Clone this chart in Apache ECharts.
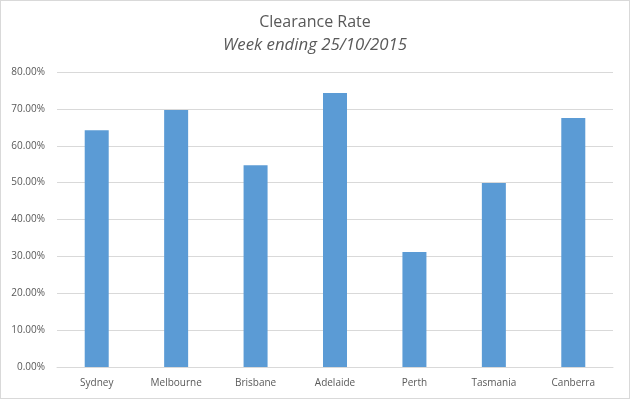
<!DOCTYPE html>
<html><head><meta charset="utf-8">
<script src="https://cdn.jsdelivr.net/npm/echarts@6/dist/echarts.min.js"></script>
<style>html,body{margin:0;padding:0;background:#fff}#c{width:630px;height:399px;box-sizing:border-box;border:1px solid #D9D9D9}</style>
</head><body><div id="c"></div>
<script>
var categories = ['Sydney','Melbourne','Brisbane','Adelaide','Perth','Tasmania','Canberra'];
var clearanceRate = [0.642, 0.697, 0.547, 0.743, 0.312, 0.499, 0.675];
var titleText = 'Clearance Rate';
var subtitleText = 'Week ending 25/10/2015';

var chart = echarts.init(document.getElementById('c'), null, {renderer:'canvas'});
chart.setOption({
  animation:false,
  title:{
    text:titleText, subtext:subtitleText, left:'center', top:8, itemGap:7,
    textStyle:{fontFamily:'Open Sans', fontSize:16, fontWeight:'normal', color:'#595959'},
    subtextStyle:{fontFamily:'Open Sans', fontSize:16.8, fontStyle:'italic', color:'#595959'}
  },
  grid:{left:56, right:16, top:71, bottom:31, containLabel:false},
  xAxis:{
    type:'category', data:categories,
    axisLine:{lineStyle:{color:'#D9D9D9'}}, axisTick:{show:false},
    axisLabel:{color:'#595959', fontFamily:'Open Sans', fontSize:10, margin:11}
  },
  yAxis:{
    type:'value', min:0, max:0.8, interval:0.1,
    axisLine:{show:false}, axisTick:{show:false},
    splitLine:{lineStyle:{color:'#D9D9D9'}},
    axisLabel:{color:'#595959', fontFamily:'Open Sans', fontSize:10, margin:12,
      formatter:function(v){return (v*100).toFixed(2)+'%';}}
  },
  series:[{type:'bar', data:clearanceRate, barWidth:24, itemStyle:{color:'#5B9BD5'}}]
});
</script></body></html>
